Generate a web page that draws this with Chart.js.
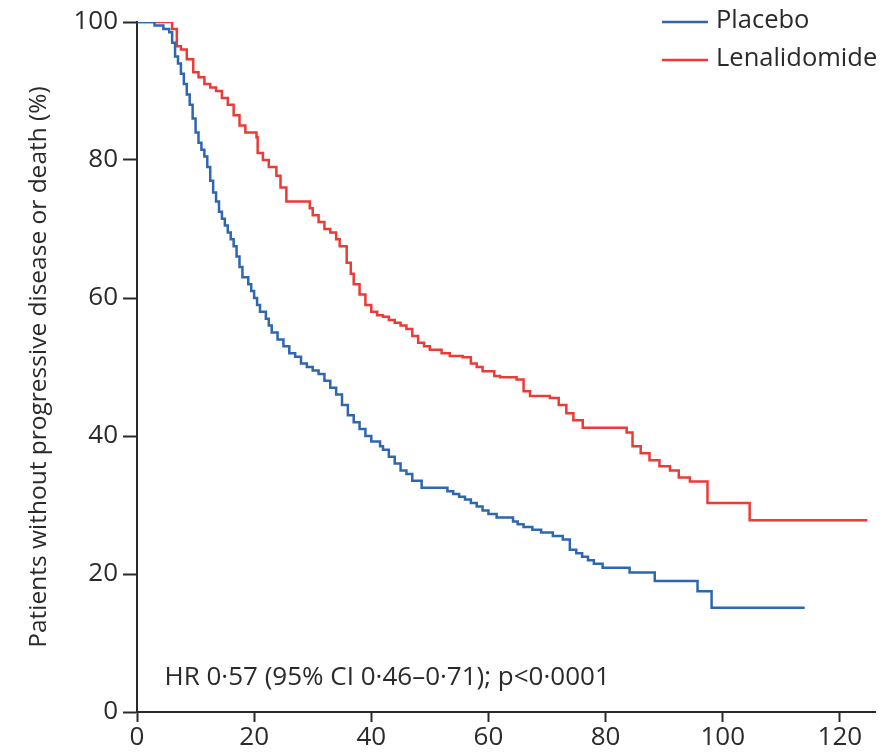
<!DOCTYPE html>
<html>
<head>
<meta charset="utf-8">
<script src="https://cdn.jsdelivr.net/npm/chart.js@4.4.1/dist/chart.umd.min.js"></script>
<style>
  html, body { margin: 0; padding: 0; background: #fff; }
</style>
</head>
<body>
<canvas id="kmChart" width="894" height="752"></canvas>
<script>
// Kaplan-Meier progression-free survival
var placeboMonths = [0, 3, 4.5, 5.5, 6, 6.5, 7, 7.5, 8, 8.5, 9, 9.5, 10, 10.5, 11, 11.5, 12, 12.5, 13, 13.5,
  14, 14.5, 15, 15.5, 16, 16.5, 17, 17.5, 18, 19, 19.5, 20, 20.5, 21, 22, 22.5, 23, 24, 25, 26,
  27, 28, 29, 30, 31, 32, 33, 34, 35, 36, 37, 38, 39, 40, 41.5, 42, 43, 44, 45, 46,
  47, 48.6, 53, 54, 55, 56, 57, 58, 59, 60, 61.4, 64.2, 65, 66, 67.5, 69, 71, 72.7, 73.9, 75,
  76, 77, 78, 79.5, 84.1, 88.4, 95.7, 98.1, 114];
var placeboPfs = [100, 99.5, 99, 98.5, 97, 95, 94, 92.5, 91, 89.5, 88, 86, 84, 82.5, 81.5, 80.5, 79, 77, 75.3, 74,
  72.5, 71.5, 70.5, 69.5, 68.5, 67.5, 66, 64.5, 63, 62, 61, 60, 59, 58, 57, 56, 55, 54, 53, 52,
  51.5, 50.5, 50, 49.5, 49, 48, 47, 46, 44.5, 43, 42, 41, 40, 39.2, 38.5, 38, 37, 36, 35, 34.5,
  33.5, 32.5, 32, 31.6, 31.2, 30.8, 30.3, 29.8, 29.2, 28.7, 28.2, 27.6, 27.2, 26.8, 26.4, 26, 25.5, 25, 23.5, 23,
  22.5, 22, 21.5, 20.9, 20.2, 19, 17.5, 15.1, 15.1];

var lenaMonths = [0, 6, 6.8, 7.5, 8.5, 9.6, 10.5, 11.5, 12.5, 13.5, 14.5, 15.5, 16.5, 17.5, 18.5, 20.4, 20.6, 21.5, 22.5, 23.8,
  24.5, 25.5, 29.5, 30, 31, 32, 33, 34, 34.6, 35.8, 36.5, 37, 38, 39, 40, 41, 42, 43, 44, 45,
  46, 47, 48, 49, 50, 52, 53.4, 55.6, 57, 58, 59, 61, 62, 64.8, 66, 67.1, 70.5, 72, 73.3, 74.5,
  76.1, 83.6, 84.6, 86, 87.5, 89.2, 91, 92.5, 94.4, 97.4, 104.6, 124.7];
var lenaPfs = [100, 99, 96.5, 96, 94.6, 92.7, 92, 91, 90.5, 90, 89, 88, 86.5, 85, 84, 83.3, 81, 80, 79, 77.7,
  76, 74, 73, 72, 71, 70, 69.5, 68.5, 67.5, 65.1, 63.5, 62, 60.5, 59, 58, 57.5, 57.3, 56.8, 56.4, 56,
  55.5, 54.5, 53.5, 53, 52.5, 52, 51.6, 51.4, 50.5, 50, 49.4, 48.7, 48.5, 48.2, 46.5, 45.8, 45.5, 44.5, 43.3, 42.3,
  41.2, 40.5, 38.5, 37.5, 36.5, 35.6, 35, 34, 33.4, 30.3, 27.8, 27.8];

var xTicks = [0, 20, 40, 60, 80, 100, 120];
var yTicks = [0, 20, 40, 60, 80, 100];

var seriesNames = ["Placebo", "Lenalidomide"];
var statText = "HR 0\u00b757 (95% CI 0\u00b746\u20130\u00b771); p<0\u00b70001";

var blue = "#2f66b0";
var red = "#ec3b36";
var ink = "#2a2a2a";
var fontName = "'Open Sans'";

function toPoints(xs, ys) {
  var pts = [];
  for (var i = 0; i < xs.length; i++) pts.push({ x: xs[i], y: ys[i] });
  return pts;
}

// legend in the top right corner and the hazard ratio note, drawn as plain text
var notesPlugin = {
  id: "notes",
  afterDraw: function(chart) {
    var ctx = chart.ctx;
    var xs = chart.scales.x, ys = chart.scales.y;
    ctx.save();
    ctx.font = "26px " + fontName;
    ctx.fillStyle = ink;
    ctx.textBaseline = "alphabetic";
    ctx.textAlign = "left";
    ctx.fillText(statText, xs.getPixelForValue(4.7), ys.getPixelForValue(3.9));

    var rows = [22, 60];
    ctx.font = "25.5px " + fontName;
    chart.data.datasets.forEach(function(ds, i) {
      ctx.strokeStyle = ds.borderColor;
      ctx.lineWidth = 2.5;
      ctx.beginPath();
      ctx.moveTo(662, rows[i]);
      ctx.lineTo(708, rows[i]);
      ctx.stroke();
      ctx.textBaseline = "middle";
      ctx.fillText(ds.label, 716, rows[i] - 1);
    });
    ctx.restore();
  }
};

var ctx = document.getElementById("kmChart").getContext("2d");
var chart = new Chart(ctx, {
  type: "line",
  data: {
    datasets: [
      {
        label: seriesNames[0],
        data: toPoints(placeboMonths, placeboPfs),
        borderColor: blue,
        borderWidth: 2.5,
        pointRadius: 0,
        stepped: "before",
        fill: false
      },
      {
        label: seriesNames[1],
        data: toPoints(lenaMonths, lenaPfs),
        borderColor: red,
        borderWidth: 2.5,
        pointRadius: 0,
        stepped: "before",
        fill: false
      }
    ]
  },
  options: {
    responsive: false,
    animation: false,
    layout: { padding: { left: 0, right: 19, top: 22, bottom: 0 } },
    plugins: {
      legend: { display: false },
      tooltip: { enabled: false }
    },
    scales: {
      x: {
        type: "linear",
        min: 0,
        max: 126,
        afterBuildTicks: function(scale) {
          scale.ticks = xTicks.map(function(v) { return { value: v }; });
        },
        afterFit: function(scale) { scale.height = 40; },
        grid: { display: true, drawOnChartArea: false, drawTicks: true, tickLength: 10, tickWidth: 2, tickColor: ink },
        border: { display: true, color: ink, width: 2 },
        ticks: { color: ink, padding: 0, maxRotation: 0, font: { family: fontName, size: 26 } }
      },
      y: {
        type: "linear",
        min: 0,
        max: 100,
        afterBuildTicks: function(scale) {
          scale.ticks = yTicks.map(function(v) { return { value: v }; });
        },
        afterFit: function(scale) { scale.width = 137; },
        grid: { display: true, drawOnChartArea: false, drawTicks: true, tickLength: 14, tickWidth: 2, tickColor: ink },
        border: { display: true, color: ink, width: 2 },
        ticks: { color: ink, padding: 5, font: { family: fontName, size: 26 } },
        title: {
          display: true,
          text: "Patients without progressive disease or death (%)",
          color: ink,
          padding: { top: 24, bottom: 0 },
          font: { family: fontName, size: 24.5 }
        }
      }
    }
  },
  plugins: [notesPlugin]
});
</script>
</body>
</html>
